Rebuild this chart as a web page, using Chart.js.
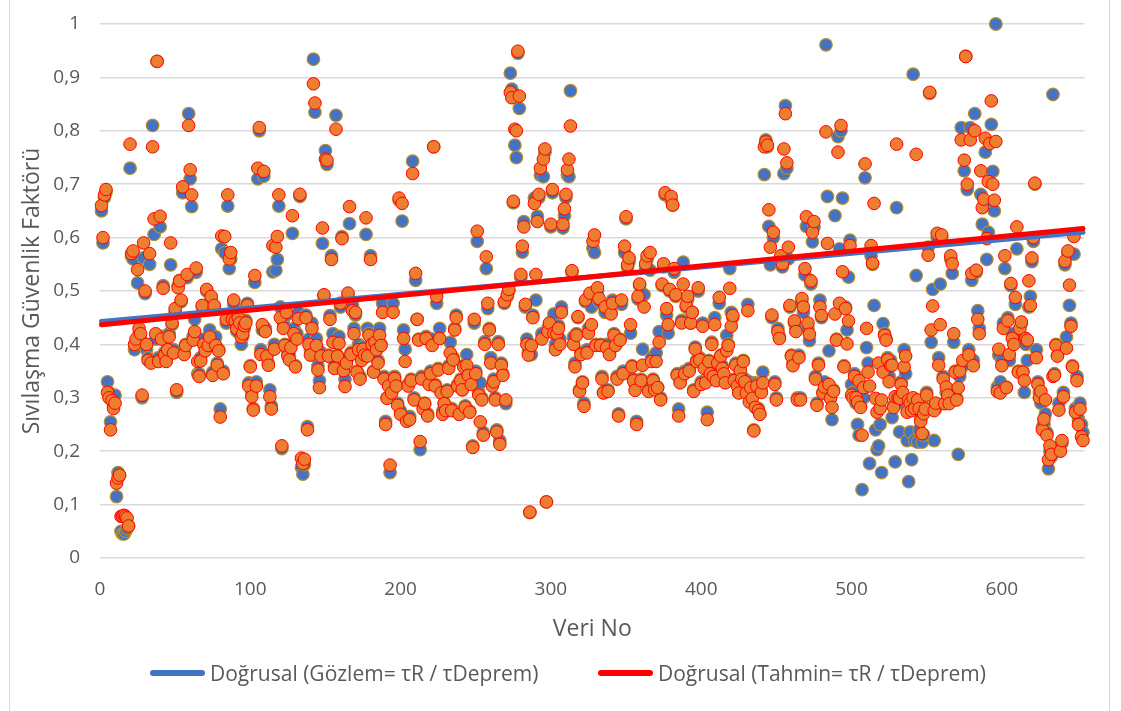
<!DOCTYPE html>
<html>
<head>
<meta charset="utf-8">
<script src="https://cdn.jsdelivr.net/npm/chart.js@4.4.1/dist/chart.umd.min.js"></script>
<style>
  html, body { margin: 0; padding: 0; background: #ffffff; }
  #frame { position: relative; width: 1121px; height: 711px; overflow: hidden; background: #ffffff; }
  #frame::before {
    content: ''; position: absolute; left: 9px; top: -2px; width: 1101px; height: 720px;
    border-left: 1px solid #D9D9D9; border-right: 1px solid #D9D9D9; box-sizing: border-box;
  }
  canvas { position: absolute; left: 0; top: 0; }
  .lg {
    position: absolute; top: 660px; height: 26px; display: flex; align-items: center;
    font-family: "Open Sans", "Segoe UI", "DejaVu Sans", sans-serif; font-size: 21px;
    color: #595959; white-space: nowrap; line-height: 26px;
  }
  .sw { display: inline-block; width: 55px; height: 6px; border-radius: 3px; margin-right: 5px; }
</style>
</head>
<body>
<div id="frame">
  <canvas id="chart" width="1121" height="711"></canvas>
  <div class="lg" id="lgGozlem" style="left:150px"><span class="sw"></span><span class="tx"></span></div>
  <div class="lg" id="lgTahmin" style="left:598px"><span class="sw"></span><span class="tx"></span></div>
</div>
<script>
// Axis ticks
const xTickValues = [0, 100, 200, 300, 400, 500, 600];
const yTickValues = [0, 0.1, 0.2, 0.3, 0.4, 0.5, 0.6, 0.7, 0.8, 0.9, 1];
const yTickLabels = ['0', '0,1', '0,2', '0,3', '0,4', '0,5', '0,6', '0,7', '0,8', '0,9', '1'];

// Predicted safety factor (Tahmin), one value per record starting at record 1
const tahmin = [
  .66,.60,.68,.69,.31,.30,.24,.295,.28,.29,
  .14,.15,.155,.078,.078,.08,.078,.075,.06,.775,
  .57,.575,.40,.41,.54,.43,.42,.305,.59,.50,
  .40,.37,.57,.365,.77,.635,.42,.93,.368,.64,
  .41,.505,.38,.368,.39,.414,.59,.44,.384,.467,
  .315,.506,.519,.483,.695,.381,.398,.531,.81,.727,
  .68,.408,.424,.543,.368,.34,.369,.473,.40,.388,
  .503,.398,.414,.49,.342,.473,.398,.361,.388,.264,
  .603,.345,.602,.447,.68,.56,.572,.447,.483,.444,
  .43,.45,.44,.414,.42,.435,.44,.473,.322,.358,
  .302,.277,.529,.322,.73,.806,.381,.437,.724,.424,
  .378,.361,.302,.279,.585,.391,.582,.602,.68,.45,
  .21,.43,.398,.46,.378,.371,.394,.641,.42,.358,
  .41,
  .448,.681,.187,.177,.185,.45,.24,.40,.38,.43,
  .888,.852,.398,.352,.319,.378,.618,.493,.747,.745,
  .378,.447,.559,.404,.355,.803,.378,.402,.477,.598,
  .351,.321,.365,.496,.658,.381,.463,.42,.46,.348,
  .39,.335,.37,.391,.38,.637,.378,.417,.559,.40,
  .348,.404,.39,.365,.417,.398,.46,.335,.25,.299,
  .322,.174,.309,.46,.336,.322,.286,.674,.269,.664,
  .411,.368,.256,.322,.259,.332,.72,.296,.533,.447,
  .408,.218,.335,.279,.289,.411,.266,.325,.345,.398,
  .77,.322,.49,.352,.411,.309,.269,.289,.276,.312,
  .355,.384,.276,.371,.427,.45,.322,.269,.332,.315,
  .358,.282,.361,.342,.273,.325,.207,.447,.345,.612,
  .305,.255,.296,.23,.40,.564,.477,.427,.365,.322,
  .33,
  .296,.236,.40,.213,.361,.342,.48,.296,.493,.503,
  .872,.862,.668,.803,.80,.949,.865,.531,.584,.62,
  .475,.40,.38,.086,.398,.45,.664,.531,.63,.681,.73,.41,
  .747,.766,.105,.424,.44,.625,.69,.421,.39,.42,.43,.40,.46,
  .625,.654,.681,.727,.747,.809,.538,.40,.358,.417,
  .452,.312,.381,.328,.284,.483,.384,.421,.496,.437,
  .593,.605,.398,.506,.486,.398,.335,.309,
  .47,.394,.312,.381,.457,.477,
  .417,.398,.335,.266,.408,.483,.345,.584,.639,.549,
  .562,.437,.358,.332,.314,.25,.49,.513,.332,.361,
  .47,.551,.566,.312,.572,.368,.332,.315,.368,.319,
  .404,.296,.513,.551,.684,.467,.437,.503,.677,.661,
  .542,.493,.342,.266,.328,.44,.513,.345,.473,.49,
  .35,
  .44,.46,.312,.391,.368,
  .506,.371,.325,.434,.355,.328,.259,.368,.345,.40,.34,
  .437,.332,.365,.488,.378,.355,.345,.328,.388,.398,
  .505,.434,.454,.332,.361,.322,.309,.351,.335,.368,.33,
  .309,.463,.292,.319,.299,.238,.282,.322,.276,.269,.31,
  .328,.77,.779,.773,.652,.582,.455,.61,.325,.296,
  .424,.411,.566,.551,.766,.832,.74,.582,.473,.378,.36,
  .444,.424,.296,.375,.296,.486,.47,.542,.639,.44,
  .419,.519,.61,.63,.335,.286,.361,.47,.454,.309,.32,
  .798,.589,.325,.299,.282,.312,.457,.408,.76,.477,
  .81,.536,.358,.467,.401,.444,.585,.305,.30,.34,.30,
  .292,.332,.282,.23,.319,.738,.43,.348,.322,.585,
  .552,.664,.299,.273,.365,.28,.296,.348,.417,.408,.371,
  .33,
  .36,.361,.282,.302,.775,.30,
  .299,.325,.31,.358,.378,.273,.296,.29,.276,.30,.28,
  .756,.296,.28,.256,.233,.27,.279,.305,.567,.872,
  .427,.472,.276,.29,.608,.361,.437,.605,.335,.289,.32,
  .305,.289,.566,.551,.42,.348,.296,.319,.35,.783,.37,
  .745,.939,.70,.38,.783,.533,.36,.80,.539,.447,.42,
  .725,.656,.672,.786,.598,.705,.776,.856,.70,.67,
  .78,.312,.391,.309,.36,.43,.566,.319,.444,.381,
  .514,.411,.40,.488,.62,.348,.43,.442,.348,.332,
  .411,.408,.519,.473,.562,.60,.702,.375,.325,.30,
  .312,.24,.26,.296,.23,.184,.21,.194,.34,.342,
  .398,.378,.277,.20,.22,.302,.556,.393,.575,.511,
  .434,.358,.602,.273,.332,.25,.279,.227,.22
];

// Observed safety factor (Gözlem), one value per record starting at record 1
const gozlem = [
  .65,.59,.675,.685,.33,.31,.255,.30,.285,.305,
  .115,.16,.155,.05,.045,.045,.05,.055,.06,.73,
  .565,.56,.39,.40,.515,.42,.41,.30,.562,.495,
  .39,.375,.55,.37,.81,.606,.41,.93,.375,.62,
  .415,.51,.385,.37,.395,.42,.549,.437,.39,.46,
  .31,.51,.52,.48,.684,.385,.40,.525,.832,.71,
  .658,.415,.447,.535,.345,.345,.375,.47,.41,.395,
  .50,.40,.427,.485,.348,.47,.414,.365,.39,.279,
  .579,.35,.572,.44,.659,.542,.56,.45,.475,.44,
  .425,.44,.435,.40,.415,.43,.445,.477,.328,.36,
  .31,.28,.516,.33,.71,.80,.39,.427,.715,.43,
  .38,.365,.315,.285,.536,.40,.539,.559,.659,.47,
  .205,.44,.40,.455,.385,.38,.40,.608,.43,.36,
  .42,
  .46,.677,.17,.157,.175,.455,.246,.41,.39,.44,
  .934,.835,.411,.36,.332,.385,.589,.49,.763,.737,
  .38,.454,.566,.42,.36,.829,.38,.415,.47,.602,
  .355,.335,.37,.49,.626,.385,.473,.43,.455,.35,
  .40,.34,.375,.395,.38,.606,.43,.42,.566,.405,
  .35,.41,.39,.37,.43,.40,.477,.34,.256,.30,
  .33,.16,.31,.477,.34,.325,.29,.67,.275,.631,
  .427,.391,.26,.325,.265,.335,.743,.30,.52,.447,
  .41,.203,.34,.285,.29,.415,.27,.33,.35,.41,
  .77,.325,.477,.355,.43,.31,.275,.29,.28,.315,
  .36,.404,.28,.375,.43,.455,.325,.27,.335,.315,
  .36,.285,.381,.345,.275,.33,.21,.44,.35,.593,
  .31,.328,.30,.235,.405,.542,.467,.43,.375,.325,
  .335,
  .30,.24,.405,.22,.365,.345,.477,.289,.49,.50,
  .908,.878,.665,.773,.75,.945,.842,.525,.573,.63,
  .47,.41,.385,.085,.381,.455,.674,.483,.64,.675,.717,.42,
  .714,.76,.105,.43,.435,.62,.684,.457,.40,.425,.435,.41,.47,
  .618,.641,.675,.717,.714,.875,.535,.414,.365,.42,
  .45,.315,.385,.33,.29,.48,.39,.43,.49,.47,
  .58,.572,.40,.50,.48,.40,.34,.31,
  .46,.40,.315,.385,.46,.483,
  .42,.40,.34,.27,.41,.475,.35,.572,.635,.545,
  .555,.421,.36,.335,.325,.256,.485,.51,.335,.391,
  .493,.545,.56,.315,.539,.375,.335,.32,.384,.32,
  .424,.30,.51,.545,.68,.455,.421,.50,.67,.661,
  .535,.49,.345,.279,.33,.445,.554,.35,.47,.485,
  .355,
  .44,.46,.315,.395,.37,
  .50,.375,.33,.44,.36,.33,.273,.37,.35,.404,.345,
  .45,.335,.37,.477,.38,.36,.345,.33,.417,.40,
  .542,.46,.45,.335,.365,.325,.31,.355,.34,.37,.335,
  .31,.475,.33,.32,.30,.24,.328,.325,.28,.27,.315,
  .348,.718,.783,.77,.621,.549,.45,.60,.33,.30,
  .43,.415,.56,.545,.72,.847,.73,.56,.47,.38,.365,
  .44,.43,.30,.38,.30,.48,.46,.53,.621,.43,
  .407,.513,.592,.62,.34,.29,.365,.483,.45,.31,.33,
  .961,.677,.388,.30,.259,.315,.641,.41,.789,.579,
  .80,.674,.36,.47,.427,.526,.595,.325,.31,.345,.29,
  .25,.23,.285,.128,.30,.712,.394,.365,.177,.566,
  .55,.473,.24,.203,.21,.25,.16,.439,.42,.41,.375,
  .34,
  .37,.263,.285,.18,.656,.29,
  .236,.33,.30,.39,.345,.22,.143,.236,.184,.906,.22,
  .529,.217,.24,.26,.217,.23,.28,.31,.582,.87,
  .404,.503,.22,.28,.60,.375,.513,.60,.34,.29,.31,
  .31,.295,.56,.533,.404,.35,.30,.194,.34,.806,.36,
  .725,.94,.69,.39,.806,.52,.37,.832,.535,.463,.43,
  .681,.625,.66,.76,.559,.61,.66,.812,.724,.65,
  1.0,.32,.38,.33,.37,.44,.542,.32,.45,.37,
  .51,.42,.41,.475,.579,.35,.42,.44,.35,.31,
  .40,.37,.47,.49,.555,.593,.70,.39,.33,.31,
  .29,.245,.25,.27,.235,.167,.20,.19,.868,.345,
  .40,.38,.29,.21,.215,.31,.549,.414,.57,.473,
  .44,.36,.569,.28,.34,.26,.29,.25,.235
];

// Linear trend lines (value at the first and last record)
const trendX = [1, 654];
const gozlemTrend = [0.443, 0.610];
const tahminTrend = [0.437, 0.617];

const legendGozlem = 'Doğrusal (Gözlem= τR / τDeprem)';
const legendTahmin = 'Doğrusal (Tahmin= τR / τDeprem)';
const colGozlemTrend = '#4472C4';
const colTahminTrend = '#FF0000';

const toPoints = (arr) => arr.map((v, i) => ({ x: i + 1, y: v }));
const trendPoints = (arr) => trendX.map((x, i) => ({ x, y: arr[i] }));

const FONT = '"Open Sans", "Segoe UI", "DejaVu Sans", sans-serif';
const TEXT = '#595959';

// Legend entries for the two trend lines
function fillLegend(id, text, color) {
  const el = document.getElementById(id);
  el.querySelector('.sw').style.background = color;
  el.querySelector('.tx').textContent = text;
}
fillLegend('lgGozlem', legendGozlem, colGozlemTrend);
fillLegend('lgTahmin', legendTahmin, colTahminTrend);

new Chart(document.getElementById('chart'), {
  type: 'scatter',
  data: {
    datasets: [
      {
        type: 'line', label: legendTahmin, data: trendPoints(tahminTrend),
        borderColor: colTahminTrend, backgroundColor: colTahminTrend, borderWidth: 5,
        borderCapStyle: 'round', pointRadius: 0, fill: false, order: 0, clip: false
      },
      {
        type: 'line', label: legendGozlem, data: trendPoints(gozlemTrend),
        borderColor: colGozlemTrend, backgroundColor: colGozlemTrend, borderWidth: 5,
        borderCapStyle: 'round', pointRadius: 0, fill: false, order: 1, clip: false
      },
      {
        label: 'Tahmin', data: toPoints(tahmin),
        backgroundColor: '#ED7D31', borderColor: '#FF0000', borderWidth: 1,
        pointRadius: 6.3, order: 2, clip: false
      },
      {
        label: 'Gözlem', data: toPoints(gozlem),
        backgroundColor: '#4472C4', borderColor: '#B8902A', borderWidth: 1.2,
        pointRadius: 6.3, order: 3, clip: false
      }
    ]
  },
  options: {
    responsive: false,
    animation: false,
    events: [],
    layout: { padding: { left: 0, right: 36.5, top: 24, bottom: 66 } },
    plugins: {
      tooltip: { enabled: false },
      legend: { display: false }
    },
    scales: {
      x: {
        type: 'linear', min: 0, max: 655,
        afterBuildTicks: (scale) => { scale.ticks = xTickValues.map(v => ({ value: v })); },
        afterFit: (scale) => { scale.height = 87; },
        grid: { display: false, drawTicks: false },
        border: { display: false },
        ticks: { color: TEXT, font: { family: FONT, size: 19 }, padding: 20, maxRotation: 0 },
        title: { display: true, text: 'Veri No', color: TEXT, font: { family: FONT, size: 23 }, padding: { top: 2, bottom: 2 } }
      },
      y: {
        type: 'linear', min: 0, max: 1,
        afterBuildTicks: (scale) => { scale.ticks = yTickValues.map(v => ({ value: v })); },
        afterFit: (scale) => { scale.width = 100; },
        grid: { color: '#D9D9D9', lineWidth: 1.5, drawTicks: true, tickLength: 8, tickColor: 'rgba(0,0,0,0)' },
        border: { display: false },
        ticks: {
          color: TEXT, font: { family: FONT, size: 19 }, padding: 12,
          callback: (value, index) => yTickLabels[index]
        },
        title: { display: true, text: 'Sıvılaşma Güvenlik Faktörü', color: TEXT, font: { family: FONT, size: 23 }, padding: { top: 19, bottom: 4 } }
      }
    }
  }
});
</script>
</body>
</html>
